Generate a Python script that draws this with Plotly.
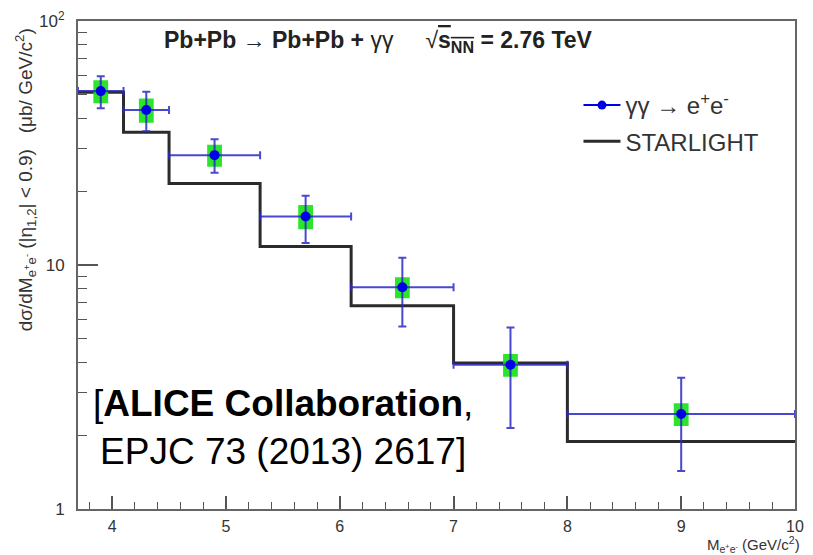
import plotly.graph_objects as go

# Bins in invariant mass M_ee (GeV/c^2)
bin_edges = [3.7, 4.1, 4.5, 5.3, 6.1, 7.0, 8.0, 10.0]
bin_centers = [3.9, 4.3, 4.9, 5.7, 6.55, 7.5, 9.0]

# Measured cross section (ub / GeV/c^2) with stat. and syst. uncertainties
xsec = [51.6, 43.2, 28.2, 15.8, 8.1, 3.9, 2.45]
stat_up = [7.8, 8.1, 4.6, 3.4, 2.6, 1.65, 1.0]
stat_dn = [7.7, 7.9, 4.3, 3.5, 2.5, 1.75, 1.02]
syst = [5.6, 4.9, 2.9, 1.8, 0.8, 0.42, 0.26]

# STARLIGHT prediction, one value per bin
starlight = [51.0, 35.0, 21.6, 11.9, 6.8, 3.97, 1.89]

FONT = "Liberation Sans, Arial, Helvetica, sans-serif"
TXT = "#333333"
BLUE = "#0000e6"
ERR = "rgba(40,40,200,0.85)"
GREEN = "rgba(20,225,20,0.9)"

fig = go.Figure()

# STARLIGHT histogram (step line)
fig.add_trace(go.Scatter(
    x=bin_edges, y=starlight + [starlight[-1]],
    mode="lines", line=dict(color="#2b2b2b", width=3, shape="hv"),
    name="STARLIGHT", legendrank=2, legendgroup="b",
    hoverinfo="skip",
))

# Systematic uncertainty boxes
half_w = 0.065
bx, by = [], []
for c, v, s in zip(bin_centers, xsec, syst):
    bx += [c - half_w, c + half_w, c + half_w, c - half_w, c - half_w, None]
    by += [v - s, v - s, v + s, v + s, v - s, None]
fig.add_trace(go.Scatter(
    x=bx, y=by, mode="lines", fill="toself", fillcolor=GREEN,
    line=dict(width=0, color=GREEN), showlegend=False, hoverinfo="skip",
))

# Data points with statistical errors and bin widths
fig.add_trace(go.Scatter(
    x=bin_centers, y=xsec, mode="markers",
    marker=dict(color=BLUE, size=10, symbol="circle"),
    error_y=dict(type="data", array=stat_up, arrayminus=stat_dn,
                 color=ERR, thickness=2, width=4),
    error_x=dict(type="data",
                 array=[bin_edges[i + 1] - c for i, c in enumerate(bin_centers)],
                 arrayminus=[c - bin_edges[i] for i, c in enumerate(bin_centers)],
                 color=ERR, thickness=2, width=4),
    showlegend=False,
))

# Legend entry for the data
fig.add_trace(go.Scatter(
    x=[None], y=[None], mode="lines+markers",
    line=dict(color=BLUE, width=2), marker=dict(color=BLUE, size=9),
    name="γγ → e<sup>+</sup>e<sup>-</sup>", legendrank=1, legendgroup="a",
))

fig.update_layout(
    width=813, height=555,
    margin=dict(l=78, r=9, t=17, b=46),
    paper_bgcolor="white", plot_bgcolor="white",
    font=dict(family=FONT, color=TXT, size=15),
    showlegend=True,
    legend=dict(
        x=0.698, y=0.873, xanchor="left", yanchor="top",
        bgcolor="rgba(0,0,0,0)", font=dict(size=24, color=TXT),
        itemwidth=37, tracegroupgap=2, traceorder="grouped",
    ),
    xaxis=dict(
        range=[3.7, 10], tickvals=[4, 5, 6, 7, 8, 9, 10],
        ticks="inside", ticklen=13, tickwidth=1.5, tickcolor="#555",
        minor=dict(ticks="inside", ticklen=7, dtick=0.2, tick0=0,
                   tickcolor="#555", tickwidth=1.2, showgrid=False),
        showgrid=False, zeroline=False,
        showline=True, linecolor="#666", linewidth=2, mirror=True,
        ticklabelstandoff=2, tickfont=dict(size=16, color=TXT),
    ),
    yaxis=dict(
        type="log", range=[0, 2],
        tickvals=[1, 10, 100], ticktext=["1", "10", "10<sup>2</sup>"],
        ticks="inside", ticklen=20, tickwidth=1.5, tickcolor="#555",
        minor=dict(ticks="inside", ticklen=9, tickcolor="#555", tickwidth=1.2,
                   tickvals=[2, 3, 4, 5, 6, 7, 8, 9, 20, 30, 40, 50, 60, 70, 80, 90],
                   showgrid=False),
        showgrid=False, zeroline=False,
        showline=True, linecolor="#666", linewidth=2, mirror=True,
        ticklabelstandoff=8, tickfont=dict(size=17, color=TXT),
    ),
)

annotations = [
    # header
    dict(text="<b>Pb+Pb</b> → <b>Pb+Pb +</b> γγ\u00a0\u00a0\u00a0\u00a0\u00a0"
              "√<span style='text-decoration:overline'><b>s<sub>NN</sub></b></span>"
              "<b> = 2.76 TeV</b>",
         xref="paper", yref="paper", x=0.117, y=0.957, xanchor="left", yanchor="middle",
         showarrow=False, font=dict(size=23, color="#222")),
    # y-axis title
    dict(text="dσ/dM<sub>e<sup>+</sup>e<sup>-</sup></sub> (|η<sub>1,2</sub>| < 0.9)"
              "\u00a0\u00a0\u00a0(μb/ GeV/c<sup>2</sup>)",
         xref="paper", yref="paper", x=-0.074, y=0.99, xanchor="center", yanchor="top",
         textangle=-90, showarrow=False, font=dict(size=19, color=TXT)),
    # x-axis title
    dict(text="M<sub>e<sup>+</sup>e<sup>-</sup></sub> (GeV/c<sup>2</sup>)",
         xref="paper", yref="paper", x=1.01, y=-0.073, xanchor="right", yanchor="middle",
         showarrow=False, font=dict(size=15, color=TXT)),
    # reference
    dict(text="[<b>ALICE Collaboration</b>,<br>EPJC 73 (2013) 2617]",
         xref="paper", yref="paper", x=(286 - 78) / 726, y=1 - (427 - 17) / 492,
         xanchor="center", yanchor="middle", align="center",
         showarrow=False, font=dict(size=37, color="black")),
]
fig.update_layout(annotations=annotations)

fig.write_html("out.html")
